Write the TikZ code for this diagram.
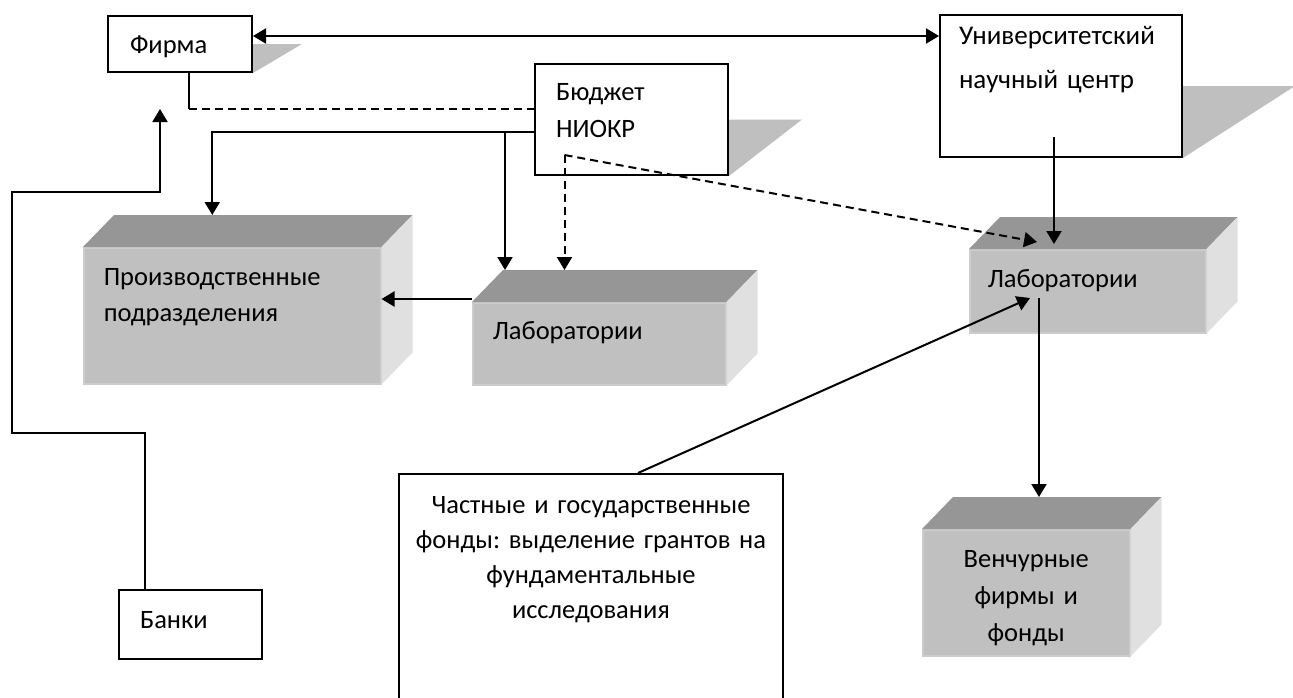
\documentclass[tikz,border=0pt]{standalone}
\usepackage{fontspec}
\setmainfont{Carlito}
\frenchspacing
\usetikzlibrary{arrows.meta,backgrounds}

\definecolor{topgray}{RGB}{150,150,150}
\definecolor{frontgray}{RGB}{192,192,192}
\definecolor{sidegray}{RGB}{224,224,224}
\definecolor{rimgray}{RGB}{204,204,204}
\definecolor{shadowgray}{RGB}{191,191,191}

\tikzset{
  box/.style={draw, line width=2pt, fill=white, anchor=north west, inner ysep=0pt,
    align=left, font=\fontsize{26.5}{36}\selectfont},
  front/.style={draw=rimgray, line width=1.5pt, fill=frontgray, anchor=north west,
    inner ysep=0pt, align=left, font=\fontsize{26.5}{36}\selectfont},
  line/.style={line width=2pt},
  conn/.style={line width=2pt, -{Triangle[length=13pt,width=15pt]}},
  dashline/.style={dash pattern=on 8pt off 5pt}
}

\begin{document}
\begin{tikzpicture}[x=1pt, y=-1pt]
\useasboundingbox (0,0) rectangle (1293,697);

% white boxes
\node[box, text width=100pt, inner xsep=22pt, text height=37pt, text depth=19pt] (firm) at (107,15) {Фирма};
\node[box, text width=151pt, inner xsep=21pt, text height=36pt, text depth=75pt,
  font=\fontsize{26.5}{37}\selectfont] (budget) at (534,63) {Бюджет\\НИОКР};
\node[box, text width=204pt, inner xsep=19pt, text height=29pt, text depth=113pt,
  font=\fontsize{27}{44}\selectfont] (univ) at (939,14) {Университетский\\научный центр};
\node[box, text width=101pt, inner xsep=21pt, text height=38pt, text depth=31pt] (banks) at (118,589) {Банки};
\node[box, align=center, text width=374pt, inner xsep=5pt, text height=39pt, text depth=221pt,
  font=\fontsize{26.5}{35}\selectfont] (grants) at (398,473)
  {Частные и государственные\\фонды: выделение грантов на\\фундаментальные\\исследования};

% blocks
\node[front, text width=257pt, inner xsep=20pt, text height=38pt, text depth=98pt] (prod) at (83,247) {Производственные\\подразделения};
\node[front, text width=213pt, inner xsep=20pt, text height=37pt, text depth=45pt] (lab) at (472,302) {Лаборатории};
\node[front, text width=200pt, inner xsep=18pt, text height=38pt, text depth=45pt] (ulab) at (969,249) {Лаборатории};
\node[front, align=center, text width=187pt, inner xsep=10pt, text height=38pt, text depth=88pt,
  font=\fontsize{26.5}{37}\selectfont] (vent) at (922,529) {Венчурные\\фирмы и\\фонды};

\foreach \n in {prod,lab,ulab,vent}{
  \fill[topgray] (\n.north west) -- ([shift={(31pt,32pt)}]\n.north west)
    -- ([shift={(31pt,32pt)}]\n.north east) -- (\n.north east) -- cycle;
  \fill[sidegray] (\n.north east) -- ([shift={(31pt,32pt)}]\n.north east)
    -- ([shift={(31pt,32pt)}]\n.south east) -- (\n.south east) -- cycle;
}

% shadows
\begin{scope}[on background layer]
\fill[shadowgray] (firm.east) -- ++(49,0) -- (firm.south east) -- cycle;
\fill[shadowgray] (budget.east) -- ++(73,0) -- (budget.south east) -- cycle;
\fill[shadowgray] (univ.east) -- ++(112,0) -- (univ.south east) -- cycle;
\end{scope}

% points
\coordinate (fa) at ([yshift=8pt]firm.east);
\coordinate (fs) at ([xshift=9pt]firm.south);
\coordinate (fd) at ([yshift=11pt]budget.west);
\coordinate (fc) at (fs |- fd);
\coordinate (b1) at ([yshift=-12pt]budget.west);
\coordinate (bd) at ([shift={(-67pt,21pt)}]budget.south);
\coordinate (prodtop) at ([shift={(-20pt,32pt)}]prod.north);
\coordinate (labtop) at ([shift={(33pt,32pt)}]lab.north west);
\coordinate (ulabin) at ([shift={(68pt,7pt)}]ulab.north west);
\coordinate (ua) at ([shift={(-7pt,21pt)}]univ.south);
\coordinate (ub) at ([shift={(83pt,5pt)}]ulab.north west);
\coordinate (ug) at ([shift={(61pt,-49pt)}]ulab.north west);
\coordinate (uv) at ([shift={(70pt,-49pt)}]ulab.north west);
\coordinate (venttop) at ([yshift=32pt]vent.north);
\coordinate (lp) at ([yshift=3pt]lab.north west);
\coordinate (bs) at ([xshift=-46pt]banks.north);
\coordinate (bend1) at (12,433);
\coordinate (bend2) at (12,192);
\coordinate (bankup) at ([shift={(-20pt,-36pt)}]firm.south);

% connectors
\draw[line, {Triangle[length=13pt,width=15pt]}-{Triangle[length=13pt,width=15pt]}] (fa) -- (fa -| univ.west);
\draw[line] (fs) -- (fc);
\draw[line, dashline] (fc) -- (fd);
\draw[conn] (b1) -| (prodtop);
\draw[conn] (b1 -| labtop) -- (labtop);
\draw[conn, dashline] (bd) -- (bd |- labtop);
\draw[conn, dashline] (bd) -- (ulabin);
\draw[conn] (ua) -- (ua |- ub);
\draw[conn] ([xshift=47pt]grants.north) -- (ug);
\draw[conn] (uv) -- (uv |- venttop);
\draw[conn] (lp) -- (lp -| prod.east);
\draw[conn] (bs) |- (bend1) -- (bend2) -| (bankup);
\end{tikzpicture}
\end{document}
